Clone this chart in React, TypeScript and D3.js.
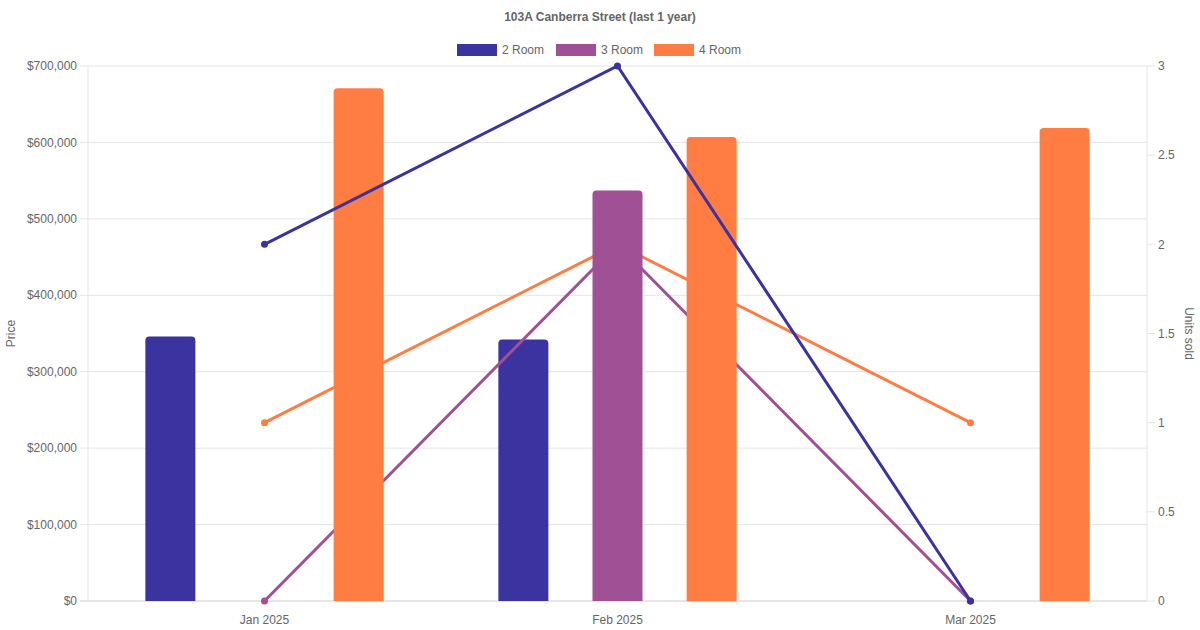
import React from 'react';
import * as d3 from 'd3';

const months = ['Jan 2025', 'Feb 2025', 'Mar 2025'];
const seriesNames = ['2 Room', '3 Room', '4 Room'];
const seriesColors = ['#3a33a0', '#a05195', '#ff7c43'];

// average price per month (bars, left axis)
const price2Room: (number | null)[] = [346000, 342000, null];
const price3Room: (number | null)[] = [null, 537000, null];
const price4Room: (number | null)[] = [671000, 607000, 619000];

// units sold per month (lines, right axis)
const units2Room = [2, 3, 0];
const units3Room = [0, 2, 0];
const units4Room = [1, 2, 1];

const priceTicks = [0, 100000, 200000, 300000, 400000, 500000, 600000, 700000];
const unitTicks = [0, 0.5, 1, 1.5, 2, 2.5, 3];

const W = 1200;
const H = 630;
const margin = { top: 66, right: 53, bottom: 29, left: 88 };
const font = '"Liberation Sans", Arial, Helvetica, sans-serif';
const textColor = '#666';
const gridColor = '#e5e5e5';

function topRoundedBar(x: number, y: number, w: number, h: number, r: number) {
  const rr = Math.min(r, h, w / 2);
  return `M${x},${y + h}V${y + rr}Q${x},${y} ${x + rr},${y}H${x + w - rr}Q${x + w},${y} ${x + w},${y + rr}V${y + h}Z`;
}

export default function App() {
  const prices = [price2Room, price3Room, price4Room];
  const units = [units2Room, units3Room, units4Room];

  const x0 = margin.left;
  const x1 = W - margin.right;
  const yTop = margin.top;
  const yBot = H - margin.bottom;

  const x = d3.scaleBand<string>().domain(months).range([x0, x1]).padding(0);
  const inner = d3
    .scaleBand<string>()
    .domain(seriesNames)
    .range([x.bandwidth() * 0.1, x.bandwidth() * 0.9])
    .padding(0);
  const barW = Math.min(50, inner.bandwidth() * 0.9);

  const yPrice = d3.scaleLinear().domain([0, 700000]).range([yBot, yTop]);
  const yUnits = d3.scaleLinear().domain([0, 3]).range([yBot, yTop]);
  const fmt = (v: number) => '$' + d3.format(',')(v);

  const cx = (m: string) => (x(m) ?? 0) + x.bandwidth() / 2;
  const line = d3
    .line<number>()
    .x((_, i) => cx(months[i]))
    .y((d) => yUnits(d));

  const renderLine = (si: number) => (
    <g key={'line' + si}>
      <path d={line(units[si]) ?? ''} fill="none" stroke={seriesColors[si]} strokeWidth={3} />
      {units[si].map((v, i) => (
        <circle key={i} cx={cx(months[i])} cy={yUnits(v)} r={3.5} fill={seriesColors[si]} />
      ))}
    </g>
  );

  const renderBars = (si: number) => (
    <g key={'bars' + si}>
      {prices[si].map((v, mi) => {
        if (v == null) return null;
        const bx = (x(months[mi]) ?? 0) + (inner(seriesNames[si]) ?? 0) + (inner.bandwidth() - barW) / 2;
        const by = yPrice(v);
        return <path key={mi} d={topRoundedBar(bx, by, barW, yBot - by, 4)} fill={seriesColors[si]} />;
      })}
    </g>
  );

  const legendX = [457, 556, 654];

  return (
    <svg width={W} height={H} style={{ position: 'absolute', left: 0, top: 0, background: '#fff' }} fontFamily={font}>
      <text x={600} y={21} textAnchor="middle" fontSize={12} fontWeight="bold" fill={textColor}>
        103A Canberra Street (last 1 year)
      </text>

      {seriesNames.map((s, i) => (
        <g key={s}>
          <rect x={legendX[i]} y={44} width={40} height={12} fill={seriesColors[i]} />
          <text x={legendX[i] + 45} y={54} fontSize={12} fill={textColor}>
            {s}
          </text>
        </g>
      ))}

      {/* horizontal grid + left axis */}
      {priceTicks.map((t) => (
        <g key={t}>
          <line x1={x0 - 8} x2={x1} y1={yPrice(t)} y2={yPrice(t)} stroke={t === 0 ? '#ccc' : gridColor} />
          <text x={x0 - 11} y={yPrice(t)} dy="0.35em" textAnchor="end" fontSize={12} fill={textColor}>
            {fmt(t)}
          </text>
        </g>
      ))}
      <line x1={x0} x2={x0} y1={yTop} y2={yBot} stroke={gridColor} />

      {/* right axis */}
      <line x1={x1} x2={x1} y1={yTop} y2={yBot} stroke={gridColor} />
      {unitTicks.map((t) => (
        <g key={t}>
          <line x1={x1} x2={x1 + 8} y1={yUnits(t)} y2={yUnits(t)} stroke={gridColor} />
          <text x={x1 + 11} y={yUnits(t)} dy="0.35em" fontSize={12} fill={textColor}>
            {t}
          </text>
        </g>
      ))}

      {/* x axis labels */}
      {months.map((m) => (
        <text key={m} x={cx(m)} y={624} textAnchor="middle" fontSize={12} fill={textColor}>
          {m}
        </text>
      ))}

      <text transform={`translate(15,${(yTop + yBot) / 2}) rotate(-90)`} textAnchor="middle" fontSize={12} fill={textColor}>
        Price
      </text>
      <text transform={`translate(1185,${(yTop + yBot) / 2}) rotate(90)`} textAnchor="middle" fontSize={12} fill={textColor}>
        Units sold
      </text>

      {/* stacking order as in the source chart */}
      {renderBars(0)}
      {renderLine(2)}
      {renderLine(1)}
      {renderBars(1)}
      {renderBars(2)}
      {renderLine(0)}
    </svg>
  );
}
